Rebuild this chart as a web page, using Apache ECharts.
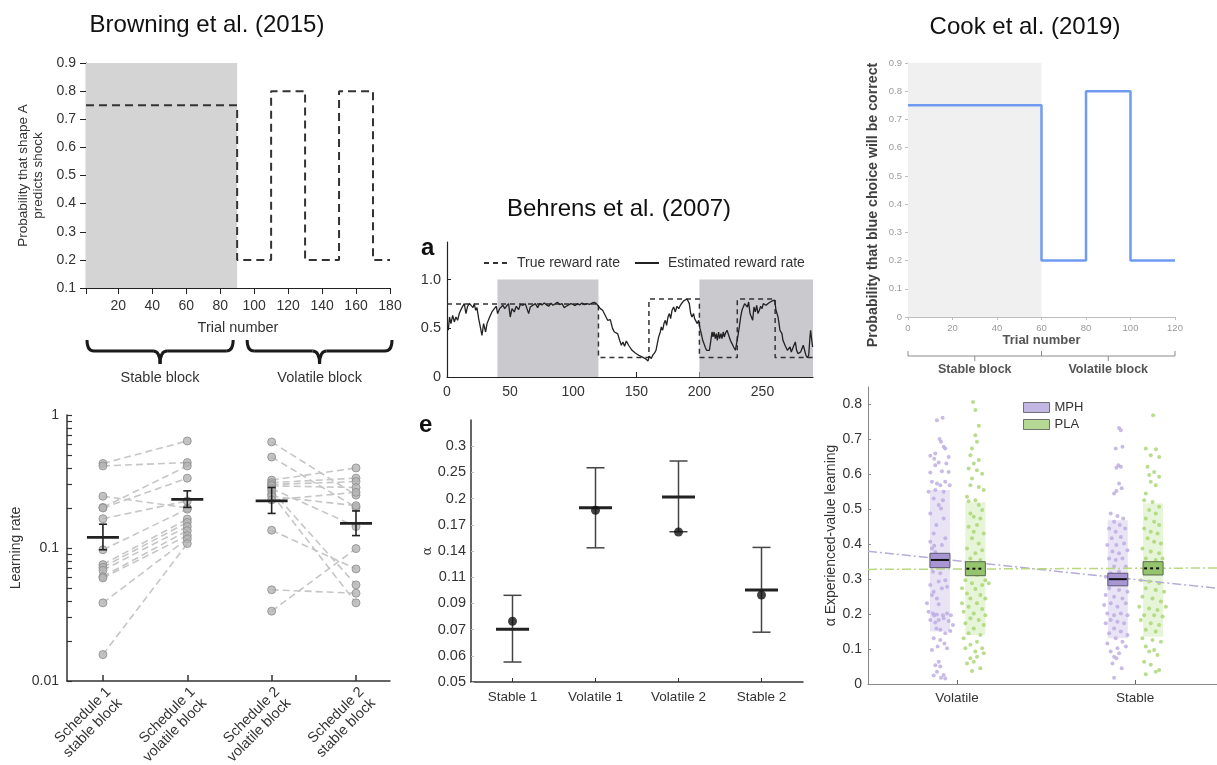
<!DOCTYPE html>
<html>
<head>
<meta charset="utf-8">
<style>
  html, body { margin: 0; padding: 0; background: #fff; }
  #main { width: 1217px; height: 765px; }
</style>
<script src="https://cdn.jsdelivr.net/npm/echarts@6/dist/echarts.min.js"></script>
</head>
<body>
<div id="main"></div>
<script>
// ---------- Browning et al. (2015): shock schedule ----------
var browningBlockStart = [1, 90, 110, 130, 150, 170, 180];
var browningBlockProb = [0.75, 0.2, 0.8, 0.2, 0.8, 0.2, 0.2];
var browningStable = [1, 90];
var browningXTicks = [20, 40, 60, 80, 100, 120, 140, 160, 180];
var browningBlocks = ['Stable block', 'Volatile block'];

// ---------- Browning: learning rate per subject ----------
var lrCategories = ['Schedule 1\nstable block', 'Schedule 1\nvolatile block', 'Schedule 2\nvolatile block', 'Schedule 2\nstable block'];
var lrSched1Stable = [0.432, 0.414, 0.245, 0.202, 0.200, 0.166, 0.097, 0.075, 0.0716, 0.068, 0.061, 0.0596, 0.0387, 0.0158];
var lrSched1Volatile = [0.638, 0.439, 0.200, 0.414, 0.335, 0.226, 0.196, 0.165, 0.156, 0.145, 0.135, 0.124, 0.117, 0.108];
var lrSched2Volatile = [0.627, 0.483, 0.324, 0.310, 0.300, 0.293, 0.280, 0.270, 0.254, 0.245, 0.230, 0.136, 0.0485, 0.0335];
var lrSched2Stable = [0.250, 0.202, 0.400, 0.335, 0.316, 0.285, 0.145, 0.0528, 0.0387, 0.208, 0.262, 0.0696, 0.0457, 0.099];
var lrMean = [0.120, 0.232, 0.226, 0.153];
var lrErrLow = [0.097, 0.202, 0.182, 0.124];
var lrErrHigh = [0.151, 0.269, 0.285, 0.190];
var lrMinorTicks = [0.01, 0.02, 0.03, 0.04, 0.05, 0.06, 0.07, 0.08, 0.09, 0.1, 0.2, 0.3, 0.4, 0.5, 0.6, 0.7, 0.8, 0.9, 1];
var lrLabelTicks = [0.01, 0.1, 1];

// ---------- Behrens et al. (2007): reward rate ----------
var trueRateStart = [0, 120, 160, 200, 230, 260, 290];
var trueRateValue = [0.75, 0.2, 0.8, 0.2, 0.8, 0.2, 0.2];
var behrensShaded = [[40, 120], [200, 290]];
var behrensXTicks = [0, 50, 100, 150, 200, 250];
var behrensYTicks = [0, 0.5, 1];
var behrensYLabels = ['0', '0.5', '1.0'];
var estimatedRate = [
  [1, 0.480], [2, 0.616], [3.1, 0.548], [4.5, 0.633], [5.8, 0.565], [7.1, 0.616], [8.4, 0.582], [9.7, 0.651],
  [11.1, 0.692], [12.4, 0.726], [13.7, 0.753], [15.0, 0.651], [16.3, 0.726], [17.9, 0.753], [19.2, 0.760],
  [20.6, 0.712], [21.6, 0.753], [22.7, 0.685], [23.7, 0.712], [25.1, 0.599], [26.4, 0.582], [27.7, 0.428],
  [29.0, 0.548], [30.6, 0.462], [31.7, 0.548], [33.8, 0.616], [35.6, 0.668], [37.5, 0.702], [39.1, 0.726],
  [40.1, 0.651], [41.7, 0.702], [43.0, 0.685], [44.3, 0.736], [45.7, 0.702], [47.0, 0.726], [48.8, 0.753],
  [50.1, 0.616], [51.5, 0.702], [53.3, 0.668], [54.9, 0.726], [56.8, 0.692], [58.1, 0.746], [60.2, 0.736],
  [62.0, 0.753], [63.4, 0.760], [64.7, 0.651], [66.0, 0.719], [68.1, 0.736], [70.0, 0.753], [71.8, 0.712],
  [73.4, 0.753], [75.2, 0.740], [77.1, 0.760], [78.7, 0.743], [80.5, 0.726], [82.4, 0.757], [84.0, 0.736],
  [85.8, 0.753], [87.6, 0.767], [89.2, 0.743], [91.1, 0.753], [92.9, 0.712], [94.5, 0.726], [96.4, 0.740],
  [98.2, 0.753], [99.8, 0.746], [101.6, 0.733], [103.5, 0.753], [105.1, 0.740], [106.9, 0.760], [108.8, 0.743],
  [110.9, 0.753], [113.0, 0.746], [114.9, 0.760], [116.7, 0.767], [118.3, 0.753], [120.1, 0.726], [121.5, 0.702],
  [123.3, 0.685], [124.6, 0.692], [126.0, 0.616], [127.3, 0.582], [129.4, 0.589], [131.2, 0.497], [132.6, 0.462],
  [133.9, 0.480], [135.2, 0.445], [136.8, 0.377], [138.1, 0.326], [139.4, 0.360], [140.7, 0.315], [142.1, 0.370],
  [143.9, 0.326], [146.6, 0.274], [149.2, 0.247], [151.9, 0.223], [154.5, 0.206], [157.1, 0.189], [159.3, 0.165],
  [160.3, 0.213], [161.9, 0.189], [163.0, 0.223], [164.5, 0.247], [165.6, 0.274], [166.4, 0.326], [167.7, 0.411],
  [169.0, 0.462], [169.8, 0.514], [170.9, 0.480], [171.9, 0.548], [173.0, 0.582], [174.0, 0.531], [175.1, 0.616],
  [176.2, 0.651], [177.2, 0.599], [178.3, 0.685], [179.6, 0.719], [180.9, 0.668], [182.2, 0.726], [183.6, 0.702],
  [184.9, 0.736], [186.2, 0.760], [187.5, 0.781], [188.8, 0.794], [190.2, 0.801], [190.9, 0.805], [192.0, 0.753],
  [193.1, 0.651], [194.1, 0.616], [195.4, 0.651], [196.2, 0.599], [197.3, 0.616], [198.3, 0.548], [199.4, 0.582],
  [200.5, 0.497], [201.5, 0.445], [202.6, 0.377], [203.6, 0.343], [204.7, 0.302], [205.7, 0.274], [206.8, 0.257],
  [207.9, 0.274], [208.9, 0.360], [210.0, 0.462], [210.8, 0.411], [211.6, 0.462], [212.6, 0.394], [213.4, 0.445],
  [214.2, 0.377], [215.2, 0.462], [216.0, 0.394], [217.1, 0.445], [217.9, 0.394], [218.9, 0.462], [219.7, 0.411],
  [220.5, 0.445], [221.9, 0.480], [223.2, 0.428], [224.5, 0.377], [225.8, 0.343], [227.1, 0.308], [228.5, 0.274],
  [229.5, 0.291], [230.6, 0.428], [231.6, 0.514], [232.7, 0.616], [233.7, 0.685], [234.8, 0.702], [235.8, 0.753],
  [236.9, 0.767], [238.0, 0.719], [239.0, 0.770], [240.1, 0.651], [241.1, 0.668], [242.2, 0.582], [243.2, 0.719],
  [244.3, 0.668], [245.4, 0.736], [246.4, 0.651], [247.5, 0.685], [248.5, 0.726], [249.6, 0.702], [250.6, 0.753],
  [251.7, 0.770], [252.8, 0.736], [253.8, 0.753], [254.9, 0.760], [256.2, 0.777], [257.5, 0.781], [258.6, 0.788],
  [259.6, 0.788], [260.7, 0.685], [261.5, 0.702], [262.3, 0.616], [263.1, 0.548], [263.8, 0.480], [264.6, 0.462],
  [265.4, 0.445], [266.2, 0.377], [267.0, 0.394], [267.8, 0.326], [269.7, 0.274], [270.7, 0.257], [271.8, 0.308],
  [272.8, 0.257], [273.9, 0.240], [274.9, 0.326], [276.0, 0.360], [277.0, 0.274], [278.1, 0.240], [279.2, 0.223],
  [280.2, 0.257], [281.3, 0.274], [282.3, 0.326], [283.4, 0.308], [284.4, 0.223], [285.5, 0.199], [286.6, 0.223],
  [287.6, 0.411], [288.1, 0.480], [288.7, 0.411], [289.7, 0.308]
];

// ---------- Behrens: alpha per block ----------
var eCategories = ['Stable 1', 'Volatile 1', 'Volatile 2', 'Stable 2'];
var eMean = [0.0746, 0.188, 0.204, 0.1005];
var eLow = [0.0582, 0.1386, 0.1566, 0.073];
var eHigh = [0.0966, 0.2546, 0.268, 0.139];
var eDot = [0.0793, 0.1843, 0.1563, 0.0968];
var eTickValues = [0.05, 0.061, 0.0745, 0.0908, 0.1109, 0.1353, 0.1651, 0.2014, 0.2458, 0.3];
var eTickLabels = ['0.05', '0.06', '0.07', '0.09', '0.11', '0.14', '0.17', '0.2', '0.25', '0.3'];

// ---------- Cook et al. (2019): schedule ----------
var cookBlockStart = [0, 60, 80, 100, 120];
var cookBlockProb = [0.75, 0.2, 0.8, 0.2, 0.2];
var cookStable = [0, 60];
var cookBlocks = ['Stable block', 'Volatile block'];

// ---------- Cook: experienced-value learning rate ----------
var cookConditions = ['Volatile', 'Stable'];
var mphPoints = [
  [0.887, 0.755], [0.919, 0.762], [0.902, 0.701], [0.910, 0.693], [0.925, 0.679], [0.934, 0.674], [0.878, 0.660],
  [0.850, 0.653], [0.872, 0.645], [0.953, 0.650], [0.897, 0.634], [0.940, 0.631], [0.878, 0.626], [0.915, 0.609],
  [0.850, 0.605], [0.953, 0.607], [0.859, 0.579], [0.887, 0.574], [0.906, 0.569], [0.934, 0.579], [0.959, 0.569],
  [0.840, 0.550], [0.878, 0.555], [0.925, 0.550], [0.869, 0.531], [0.921, 0.526], [0.897, 0.512], [0.850, 0.488],
  [0.910, 0.502], [0.925, 0.474], [0.884, 0.455], [0.869, 0.431], [0.850, 0.407], [0.872, 0.396], [0.859, 0.388],
  [0.915, 0.398], [0.934, 0.417], [0.878, 0.378], [0.887, 0.369], [0.944, 0.359], [0.929, 0.340], [0.865, 0.321],
  [0.906, 0.317], [0.897, 0.293], [0.934, 0.297], [0.850, 0.283], [0.915, 0.274], [0.869, 0.264], [0.944, 0.278],
  [0.859, 0.255], [0.887, 0.245], [0.831, 0.231], [0.897, 0.228], [0.840, 0.207], [0.865, 0.202], [0.887, 0.199],
  [0.872, 0.196], [0.921, 0.197], [0.944, 0.202], [0.966, 0.197], [0.850, 0.183], [0.897, 0.183], [0.878, 0.176],
  [0.925, 0.188], [0.953, 0.180], [0.977, 0.169], [0.884, 0.159], [0.906, 0.155], [0.934, 0.145], [0.962, 0.152],
  [0.869, 0.131], [0.906, 0.126], [0.929, 0.116], [0.891, 0.107], [0.944, 0.102], [0.859, 0.097], [0.897, 0.064],
  [0.878, 0.054], [0.906, 0.050], [0.887, 0.035], [0.925, 0.026], [0.869, 0.024], [0.910, 0.018], [0.934, 0.016],
  [1.910, 0.733], [1.920, 0.726], [1.929, 0.679], [1.891, 0.674], [1.906, 0.626], [1.920, 0.622], [1.895, 0.619],
  [1.910, 0.574], [1.925, 0.560], [1.895, 0.552], [1.882, 0.545], [1.863, 0.488], [1.901, 0.481], [1.933, 0.474],
  [1.882, 0.464], [1.914, 0.455], [1.854, 0.445], [1.891, 0.436], [1.944, 0.445], [1.869, 0.417], [1.920, 0.421],
  [1.844, 0.398], [1.895, 0.398], [1.938, 0.402], [1.873, 0.379], [1.910, 0.374], [1.957, 0.383], [1.854, 0.359],
  [1.891, 0.355], [1.929, 0.359], [1.882, 0.336], [1.948, 0.336], [1.863, 0.317], [1.910, 0.321], [1.835, 0.307],
  [1.891, 0.293], [1.938, 0.293], [1.854, 0.274], [1.910, 0.269], [1.957, 0.264], [1.835, 0.255], [1.882, 0.250],
  [1.929, 0.245], [1.863, 0.231], [1.901, 0.221], [1.948, 0.231], [1.826, 0.226], [1.844, 0.202], [1.882, 0.197],
  [1.920, 0.202], [1.957, 0.197], [1.863, 0.183], [1.901, 0.178], [1.938, 0.174], [1.835, 0.174], [1.882, 0.159],
  [1.920, 0.150], [1.854, 0.145], [1.957, 0.140], [1.891, 0.131], [1.929, 0.121], [1.844, 0.116], [1.948, 0.107],
  [1.901, 0.102], [1.863, 0.093], [1.910, 0.088], [1.882, 0.078], [1.895, 0.074], [1.873, 0.059], [1.925, 0.045],
  [1.882, 0.018]
];
var plaPoints = [
  [1.090, 0.807], [1.103, 0.784], [1.122, 0.739], [1.103, 0.712], [1.112, 0.693], [1.084, 0.674], [1.075, 0.655],
  [1.122, 0.641], [1.094, 0.631], [1.065, 0.617], [1.112, 0.612], [1.141, 0.602], [1.084, 0.588], [1.075, 0.569],
  [1.122, 0.564], [1.150, 0.555], [1.056, 0.536], [1.065, 0.523], [1.103, 0.526], [1.122, 0.512], [1.141, 0.498],
  [1.075, 0.488], [1.094, 0.479], [1.131, 0.474], [1.112, 0.455], [1.065, 0.450], [1.094, 0.436], [1.150, 0.431],
  [1.084, 0.417], [1.122, 0.402], [1.056, 0.388], [1.141, 0.383], [1.103, 0.374], [1.075, 0.359], [1.131, 0.355],
  [1.065, 0.321], [1.112, 0.312], [1.047, 0.297], [1.159, 0.297], [1.084, 0.288], [1.141, 0.283], [1.178, 0.288],
  [1.028, 0.274], [1.103, 0.272], [1.056, 0.259], [1.131, 0.255], [1.075, 0.245], [1.159, 0.245], [1.028, 0.231],
  [1.112, 0.231], [1.065, 0.221], [1.141, 0.215], [1.037, 0.207], [1.094, 0.202], [1.159, 0.197], [1.075, 0.188],
  [1.122, 0.183], [1.047, 0.174], [1.150, 0.169], [1.094, 0.159], [1.065, 0.145], [1.131, 0.140], [1.037, 0.131],
  [1.112, 0.121], [1.075, 0.112], [1.141, 0.102], [1.047, 0.102], [1.103, 0.093], [1.150, 0.088], [1.075, 0.074],
  [1.112, 0.078], [1.094, 0.064], [1.056, 0.059], [1.131, 0.045], [1.084, 0.037],
  [2.101, 0.769], [2.060, 0.674], [2.117, 0.672], [2.088, 0.655], [2.135, 0.650], [2.070, 0.622], [2.107, 0.607],
  [2.079, 0.598], [2.135, 0.593], [2.088, 0.579], [2.116, 0.569], [2.060, 0.545], [2.051, 0.526], [2.098, 0.521],
  [2.135, 0.507], [2.079, 0.498], [2.116, 0.488], [2.060, 0.474], [2.107, 0.464], [2.135, 0.455], [2.051, 0.445],
  [2.088, 0.436], [2.126, 0.431], [2.070, 0.417], [2.107, 0.407], [2.145, 0.402], [2.041, 0.388], [2.088, 0.379],
  [2.135, 0.374], [2.060, 0.359], [2.116, 0.355], [2.154, 0.359], [2.051, 0.326], [2.098, 0.321], [2.032, 0.297],
  [2.079, 0.293], [2.135, 0.288], [2.060, 0.274], [2.116, 0.269], [2.163, 0.264], [2.041, 0.250], [2.098, 0.245],
  [2.145, 0.236], [2.023, 0.221], [2.079, 0.216], [2.126, 0.212], [2.173, 0.221], [2.051, 0.197], [2.107, 0.197],
  [2.154, 0.193], [2.032, 0.183], [2.088, 0.174], [2.135, 0.169], [2.060, 0.155], [2.116, 0.150], [2.041, 0.131],
  [2.098, 0.126], [2.145, 0.121], [2.060, 0.107], [2.107, 0.097], [2.079, 0.093], [2.126, 0.083], [2.051, 0.064],
  [2.088, 0.055], [2.116, 0.035], [2.060, 0.028], [2.135, 0.040]
];
// [x, low, high]
var mphSdBox = [[0.904, 0.150, 0.555], [1.903, 0.131, 0.469]];
var mphSeBox = [[0.904, 0.333, 0.374], [1.903, 0.281, 0.317]];
var mphMean = [[0.904, 0.355], [1.903, 0.300]];
var plaSdBox = [[1.103, 0.140, 0.520], [2.101, 0.135, 0.517]];
var plaSeBox = [[1.103, 0.310, 0.350], [2.101, 0.312, 0.350]];
var plaMean = [[1.103, 0.330], [2.101, 0.331]];
var mphTrend = [[0.5, 0.380], [2.46, 0.274]];
var plaTrend = [[0.5, 0.328], [2.46, 0.332]];
var cookYTicks = [0, 0.1, 0.2, 0.3, 0.4, 0.5, 0.6, 0.7, 0.8];

var FONT = "'Liberation Sans', Arial, Helvetica, sans-serif";

function stepData(starts, values) {
  return starts.map(function (s, i) { return [s, values[i]]; });
}
function errorBarItem(capHalf, color, width) {
  return function (params, api) {
    var x = api.value(0);
    var lo = api.coord([x, api.value(1)]);
    var hi = api.coord([x, api.value(2)]);
    var st = { stroke: color, lineWidth: width };
    return {
      type: 'group', children: [
        { type: 'line', shape: { x1: lo[0], y1: lo[1], x2: hi[0], y2: hi[1] }, style: st },
        { type: 'line', shape: { x1: lo[0] - capHalf, y1: lo[1], x2: lo[0] + capHalf, y2: lo[1] }, style: st },
        { type: 'line', shape: { x1: hi[0] - capHalf, y1: hi[1], x2: hi[0] + capHalf, y2: hi[1] }, style: st }
      ]
    };
  };
}
function hBarItem(half, color, width, dash) {
  return function (params, api) {
    var p = api.coord([api.value(0), api.value(1)]);
    return {
      type: 'line',
      shape: { x1: p[0] - half, y1: p[1], x2: p[0] + half, y2: p[1] },
      style: { stroke: color, lineWidth: width, lineDash: dash || null }
    };
  };
}
function boxItem(half, fill, stroke) {
  return function (params, api) {
    var x = api.value(0);
    var top = api.coord([x, api.value(2)]);
    var bot = api.coord([x, api.value(1)]);
    return {
      type: 'rect',
      shape: { x: top[0] - half, y: top[1], width: half * 2, height: bot[1] - top[1] },
      style: { fill: fill, stroke: stroke || null, lineWidth: stroke ? 1 : 0 }
    };
  };
}

var lrPairs = [];
lrSched1Stable.forEach(function (v, i) { lrPairs.push({ coords: [[1, v], [2, lrSched1Volatile[i]]] }); });
lrSched2Volatile.forEach(function (v, i) { lrPairs.push({ coords: [[3, v], [4, lrSched2Stable[i]]] }); });
var lrDots = [];
[lrSched1Stable, lrSched1Volatile, lrSched2Volatile, lrSched2Stable].forEach(function (arr, k) {
  arr.forEach(function (v) { lrDots.push([k + 1, v]); });
});

var chart = echarts.init(document.getElementById('main'));

var option = {
  backgroundColor: '#fff',
  animation: false,
  textStyle: { fontFamily: FONT },
  grid: [
    { left: 86, top: 63, width: 304, height: 225, outerBoundsMode: 'none' },
    { left: 67, top: 415, width: 323, height: 266, outerBoundsMode: 'none' },
    { left: 447, top: 242, width: 366, height: 135, outerBoundsMode: 'none' },
    { left: 471, top: 420, width: 332, height: 262, outerBoundsMode: 'none' },
    { left: 908, top: 63, width: 267, height: 254, outerBoundsMode: 'none' },
    { left: 868, top: 387, width: 349, height: 297, outerBoundsMode: 'none' }
  ],
  legend: [
    {
      data: ['True reward rate', 'Estimated reward rate'],
      left: 478, top: 251, itemWidth: 24, itemHeight: 10, itemGap: 14,
      itemStyle: { opacity: 0 },
      textStyle: { fontSize: 14, color: '#333', fontFamily: FONT, padding: [0, 0, 0, 4] },
      selectedMode: false
    },
    {
      data: [
        { name: 'MPH', itemStyle: { color: '#b3a5dc', borderColor: '#555', borderWidth: 1 } },
        { name: 'PLA', itemStyle: { color: '#a3d07a', borderColor: '#555', borderWidth: 1 } }
      ],
      orient: 'vertical', left: 1018, top: 396, icon: 'rect',
      itemWidth: 26, itemHeight: 10, itemGap: 4,
      textStyle: { fontSize: 13, color: '#333', fontFamily: FONT },
      selectedMode: false
    }
  ],
  xAxis: [
    { // 0 Browning schedule
      gridIndex: 0, type: 'value', min: 1, max: 180,
      name: 'Trial number', nameLocation: 'middle', nameGap: 32,
      nameTextStyle: { fontSize: 14.5, color: '#333' },
      axisLine: { lineStyle: { color: '#222', width: 1.2 } },
      axisTick: { customValues: [1].concat(browningXTicks), length: 6, lineStyle: { color: '#222' } },
      axisLabel: { customValues: browningXTicks, fontSize: 14, color: '#333', margin: 11 },
      splitLine: { show: false }
    },
    { // 1 learning rates
      gridIndex: 1, type: 'value', min: 0.574, max: 4.403,
      axisLine: { lineStyle: { color: '#333', width: 1.5 } },
      axisTick: { customValues: [1, 2, 3, 4], inside: true, length: 6, lineStyle: { color: '#333', width: 1.5 } },
      axisLabel: {
        customValues: [1, 2, 3, 4], rotate: 45, fontSize: 14.5, color: '#333', margin: 3, lineHeight: 16,
        verticalAlign: 'top',
        formatter: function (v) { return lrCategories[Math.round(v) - 1]; }
      },
      splitLine: { show: false }
    },
    { // 2 Behrens reward rate
      gridIndex: 2, type: 'value', min: 0, max: 290,
      axisLine: { lineStyle: { color: '#222', width: 1.2 } },
      axisTick: { customValues: behrensXTicks, inside: true, length: 5, lineStyle: { color: '#222' } },
      axisLabel: { customValues: behrensXTicks, fontSize: 14, color: '#333', margin: 8 },
      splitLine: { show: false }
    },
    { // 3 Behrens alpha
      gridIndex: 3, type: 'value', min: 0.5, max: 4.5,
      axisLine: { lineStyle: { color: '#333', width: 1.5 } },
      axisTick: { customValues: [1, 2, 3, 4], inside: true, length: 4, lineStyle: { color: '#333' } },
      axisLabel: {
        customValues: [1, 2, 3, 4], fontSize: 13.5, color: '#333', margin: 8,
        formatter: function (v) { return eCategories[Math.round(v) - 1]; }
      },
      splitLine: { show: false }
    },
    { // 4 Cook schedule
      gridIndex: 4, type: 'value', min: 0, max: 120, interval: 20,
      name: 'Trial number', nameLocation: 'middle', nameGap: 17,
      nameTextStyle: { fontSize: 13, color: '#555', fontWeight: 'bold' },
      axisLine: { lineStyle: { color: '#bdbdbd', width: 1 } },
      axisTick: { length: 3, lineStyle: { color: '#bdbdbd' } },
      axisLabel: { fontSize: 9.5, color: '#9a9a9a', margin: 6 },
      splitLine: { show: false }
    },
    { // 5 Cook alpha
      gridIndex: 5, type: 'value', min: 0.5, max: 2.46,
      axisLine: { lineStyle: { color: '#888', width: 1 } },
      axisTick: { customValues: [1, 2], inside: true, length: 4, lineStyle: { color: '#666' } },
      axisLabel: {
        customValues: [1, 2], fontSize: 13.5, color: '#333', margin: 7,
        formatter: function (v) { return cookConditions[Math.round(v) - 1]; }
      },
      splitLine: { show: false }
    }
  ],
  yAxis: [
    { // 0
      gridIndex: 0, type: 'value', min: 0.1, max: 0.9, interval: 0.1,
      name: 'Probability that shape A\npredicts shock', nameLocation: 'middle', nameGap: 40,
      nameTextStyle: { fontSize: 13.5, color: '#333', lineHeight: 15 },
      axisLine: { show: true, lineStyle: { color: '#222', width: 1.2 } },
      axisTick: { show: true, length: 6, lineStyle: { color: '#222' } },
      axisLabel: { fontSize: 14, color: '#333', margin: 10, formatter: function (v) { return v.toFixed(1); } },
      splitLine: { show: false }
    },
    { // 1 log
      gridIndex: 1, type: 'log', logBase: 10, min: 0.01, max: 1,
      name: 'Learning rate', nameLocation: 'middle', nameGap: 44,
      nameTextStyle: { fontSize: 14, color: '#333' },
      axisLine: { show: true, lineStyle: { color: '#333', width: 1.5 } },
      axisTick: { show: true, customValues: lrMinorTicks, inside: true, length: 5, lineStyle: { color: '#333', width: 1.2 } },
      axisLabel: { customValues: lrLabelTicks, fontSize: 14, color: '#333', margin: 8, formatter: function (v) { return String(v); } },
      splitLine: { show: false }
    },
    { // 2
      gridIndex: 2, type: 'value', min: 0, max: 1.386,
      axisLine: { show: true, lineStyle: { color: '#222', width: 1.2 } },
      axisTick: { show: true, customValues: behrensYTicks, inside: true, length: 4, lineStyle: { color: '#222' } },
      axisLabel: {
        customValues: behrensYTicks, fontSize: 14.5, color: '#333', margin: 6,
        formatter: function (v) { return behrensYLabels[behrensYTicks.indexOf(v)]; }
      },
      splitLine: { show: false }
    },
    { // 3 log alpha
      gridIndex: 3, type: 'log', logBase: 10, min: 0.05, max: 0.366,
      name: 'α', nameLocation: 'middle', nameGap: 37,
      nameTextStyle: { fontSize: 13, color: '#333', fontFamily: "'DejaVu Serif', serif" },
      axisLine: { show: true, lineStyle: { color: '#333', width: 1.5 } },
      axisTick: { show: true, customValues: eTickValues, inside: true, length: 3, lineStyle: { color: '#bbb' } },
      axisLabel: {
        customValues: eTickValues, fontSize: 14.5, color: '#333', margin: 5,
        formatter: function (v) {
          var best = 0;
          eTickValues.forEach(function (t, i) { if (Math.abs(t - v) < Math.abs(eTickValues[best] - v)) best = i; });
          return eTickLabels[best];
        }
      },
      splitLine: { show: false }
    },
    { // 4
      gridIndex: 4, type: 'value', min: 0, max: 0.9, interval: 0.1,
      axisLine: { show: true, lineStyle: { color: '#bdbdbd', width: 1 } },
      axisTick: { show: true, length: 3, lineStyle: { color: '#bdbdbd' } },
      axisLabel: { fontSize: 9.5, color: '#9a9a9a', margin: 6 },
      splitLine: { show: false }
    },
    { // 5
      gridIndex: 5, type: 'value', min: 0, max: 0.85,
      name: 'α Experienced-value learning', nameLocation: 'middle', nameGap: 26,
      nameTextStyle: { fontSize: 14, color: '#333' },
      axisLine: { show: true, lineStyle: { color: '#888', width: 1 } },
      axisTick: { show: true, customValues: cookYTicks, inside: true, length: 3, lineStyle: { color: '#888' } },
      axisLabel: { customValues: cookYTicks, fontSize: 14, color: '#333', margin: 6 },
      splitLine: { show: false }
    }
  ],
  series: [
    // ---- Browning schedule ----
    {
      name: 'browning-schedule', type: 'line', xAxisIndex: 0, yAxisIndex: 0,
      data: stepData(browningBlockStart, browningBlockProb), step: 'end', symbol: 'none',
      lineStyle: { color: '#333', width: 2, type: [8, 5] },
      markArea: {
        silent: true, itemStyle: { color: '#d4d4d4' },
        data: [[{ xAxis: browningStable[0], yAxis: 0.1 }, { xAxis: browningStable[1], yAxis: 0.9 }]]
      },
      z: 3
    },
    // ---- Browning learning rates ----
    {
      name: 'lr-pairs', type: 'lines', coordinateSystem: 'cartesian2d', xAxisIndex: 1, yAxisIndex: 1,
      data: lrPairs, lineStyle: { color: '#c6c6c6', width: 1.6, type: [7, 4], opacity: 1 }, z: 2
    },
    {
      name: 'lr-dots', type: 'scatter', xAxisIndex: 1, yAxisIndex: 1, data: lrDots,
      symbolSize: 8, itemStyle: { color: '#b4b4b4', borderColor: '#8c8c8c', borderWidth: 1 }, z: 3
    },
    {
      name: 'lr-err', type: 'custom', xAxisIndex: 1, yAxisIndex: 1,
      data: lrMean.map(function (m, i) { return [i + 1, lrErrLow[i], lrErrHigh[i]]; }),
      renderItem: errorBarItem(4, '#222', 1.6), encode: { x: 0, y: [1, 2] }, z: 4
    },
    {
      name: 'lr-mean', type: 'custom', xAxisIndex: 1, yAxisIndex: 1,
      data: lrMean.map(function (m, i) { return [i + 1, m]; }),
      renderItem: hBarItem(16, '#222', 2.8), encode: { x: 0, y: 1 }, z: 5
    },
    // ---- Behrens reward rate ----
    {
      name: 'True reward rate', type: 'line', xAxisIndex: 2, yAxisIndex: 2,
      data: stepData(trueRateStart, trueRateValue), step: 'end', symbol: 'none',
      lineStyle: { color: '#333', width: 1.5, type: [5, 4] },
      itemStyle: { color: '#333' },
      markArea: {
        silent: true, itemStyle: { color: '#c9c9ce' },
        data: behrensShaded.map(function (b) { return [{ xAxis: b[0], yAxis: 0 }, { xAxis: b[1], yAxis: 1 }]; })
      },
      z: 3
    },
    {
      name: 'Estimated reward rate', type: 'line', xAxisIndex: 2, yAxisIndex: 2,
      data: estimatedRate, symbol: 'none',
      lineStyle: { color: '#222', width: 1.3 }, itemStyle: { color: '#222' }, z: 4
    },
    // ---- Behrens alpha ----
    {
      name: 'e-err', type: 'custom', xAxisIndex: 3, yAxisIndex: 3,
      data: eMean.map(function (m, i) { return [i + 1, eLow[i], eHigh[i]]; }),
      renderItem: errorBarItem(9, '#444', 1.5), encode: { x: 0, y: [1, 2] }, z: 3
    },
    {
      name: 'e-mean', type: 'custom', xAxisIndex: 3, yAxisIndex: 3,
      data: eMean.map(function (m, i) { return [i + 1, m]; }),
      renderItem: hBarItem(16.5, '#222', 3), encode: { x: 0, y: 1 }, z: 4
    },
    {
      name: 'e-dot', type: 'scatter', xAxisIndex: 3, yAxisIndex: 3,
      data: eDot.map(function (d, i) { return [i + 1, d]; }),
      symbolSize: 9, itemStyle: { color: '#111' }, z: 5
    },
    // ---- Cook schedule ----
    {
      name: 'cook-schedule', type: 'line', xAxisIndex: 4, yAxisIndex: 4,
      data: stepData(cookBlockStart, cookBlockProb), step: 'end', symbol: 'none',
      lineStyle: { color: '#6f9bf0', width: 2.5 },
      markArea: {
        silent: true, itemStyle: { color: '#f0f0f0' },
        data: [[{ xAxis: cookStable[0], yAxis: 0 }, { xAxis: cookStable[1], yAxis: 0.9 }]]
      },
      z: 3
    },
    // ---- Cook alpha ----
    {
      name: 'mph-sd', type: 'custom', xAxisIndex: 5, yAxisIndex: 5, data: mphSdBox,
      renderItem: boxItem(10, 'rgba(195,185,228,0.38)'), encode: { x: 0, y: [1, 2] }, z: 1
    },
    {
      name: 'pla-sd', type: 'custom', xAxisIndex: 5, yAxisIndex: 5, data: plaSdBox,
      renderItem: boxItem(10, 'rgba(190,225,150,0.38)'), encode: { x: 0, y: [1, 2] }, z: 1
    },
    {
      name: 'MPH', type: 'scatter', xAxisIndex: 5, yAxisIndex: 5, data: mphPoints,
      symbolSize: 4, itemStyle: { color: '#bba9e0' }, z: 2
    },
    {
      name: 'PLA', type: 'scatter', xAxisIndex: 5, yAxisIndex: 5, data: plaPoints,
      symbolSize: 4, itemStyle: { color: '#a9d470' }, z: 2
    },
    {
      name: 'mph-trend', type: 'line', xAxisIndex: 5, yAxisIndex: 5, data: mphTrend, symbol: 'none',
      lineStyle: { color: '#b7abd9', width: 1.5, type: [9, 3, 2, 3] }, z: 3
    },
    {
      name: 'pla-trend', type: 'line', xAxisIndex: 5, yAxisIndex: 5, data: plaTrend, symbol: 'none',
      lineStyle: { color: '#b9d97f', width: 1.5, type: [9, 3, 2, 3] }, z: 3
    },
    {
      name: 'mph-se', type: 'custom', xAxisIndex: 5, yAxisIndex: 5, data: mphSeBox,
      renderItem: boxItem(10, '#a895d3', '#5d5870'), encode: { x: 0, y: [1, 2] }, z: 4
    },
    {
      name: 'pla-se', type: 'custom', xAxisIndex: 5, yAxisIndex: 5, data: plaSeBox,
      renderItem: boxItem(10, '#95c46c', '#56684a'), encode: { x: 0, y: [1, 2] }, z: 4
    },
    {
      name: 'mph-mean', type: 'custom', xAxisIndex: 5, yAxisIndex: 5, data: mphMean,
      renderItem: hBarItem(9, '#111', 2), encode: { x: 0, y: 1 }, z: 5
    },
    {
      name: 'pla-mean', type: 'custom', xAxisIndex: 5, yAxisIndex: 5, data: plaMean,
      renderItem: hBarItem(9, '#111', 2, [3, 3]), encode: { x: 0, y: 1 }, z: 5
    }
  ]
};

chart.setOption(option);

// annotations placed from the axes' own scales
function px(grid, x, y) { return chart.convertToPixel({ gridIndex: grid }, [x, y]); }
function brace(x1, x2, yT, yB, yC, style) {
  var m = (x1 + x2) / 2, r = 7;
  return [
    { type: 'bezierCurve', shape: { x1: x1, y1: yT, cpx1: x1, cpy1: yB, x2: x1 + r, y2: yB }, style: style },
    { type: 'line', shape: { x1: x1 + r, y1: yB, x2: m - r, y2: yB }, style: style },
    { type: 'bezierCurve', shape: { x1: m - r, y1: yB, cpx1: m, cpy1: yB, x2: m, y2: yC }, style: style },
    { type: 'bezierCurve', shape: { x1: m, y1: yC, cpx1: m, cpy1: yB, x2: m + r, y2: yB }, style: style },
    { type: 'line', shape: { x1: m + r, y1: yB, x2: x2 - r, y2: yB }, style: style },
    { type: 'bezierCurve', shape: { x1: x2 - r, y1: yB, cpx1: x2, cpy1: yB, x2: x2, y2: yT }, style: style }
  ];
}
function bracket(x1, x2, yT, yB, yC, style) {
  var m = (x1 + x2) / 2;
  return [
    { type: 'polyline', shape: { points: [[x1, yT], [x1, yB], [x2, yB], [x2, yT]] }, style: style },
    { type: 'line', shape: { x1: m, y1: yB, x2: m, y2: yC }, style: style }
  ];
}
var bS = px(0, browningStable[0], 0.1), bE = px(0, browningStable[1], 0.1), bR = px(0, 180, 0.1);
var bY = bS[1];
var b1 = [bS[0] + 1, bE[0] - 4], b2 = [bE[0] + 10, bR[0] + 2];
var cS = px(4, cookStable[0], 0), cE = px(4, cookStable[1], 0), cR = px(4, 120, 0);
var cY = cS[1];
var braceStyle = { stroke: '#1a1a1a', lineWidth: 3, fill: null };
var bracketStyle = { stroke: '#8a8a8a', lineWidth: 1, fill: null };
var titleFont = '24px ' + FONT;

var graphics = [
  { type: 'text', x: 207, y: 25, style: { text: 'Browning et al. (2015)', font: titleFont, fill: '#111', textAlign: 'center', textVerticalAlign: 'middle' } },
  { type: 'text', x: 619, y: 209, style: { text: 'Behrens et al. (2007)', font: titleFont, fill: '#111', textAlign: 'center', textVerticalAlign: 'middle' } },
  { type: 'text', x: 1025, y: 27, style: { text: 'Cook et al. (2019)', font: titleFont, fill: '#111', textAlign: 'center', textVerticalAlign: 'middle' } },
  { type: 'text', x: (b1[0] + b1[1]) / 2, y: bY + 90, style: { text: browningBlocks[0], font: '14.5px ' + FONT, fill: '#333', textAlign: 'center', textVerticalAlign: 'middle' } },
  { type: 'text', x: (b2[0] + b2[1]) / 2, y: bY + 90, style: { text: browningBlocks[1], font: '14.5px ' + FONT, fill: '#333', textAlign: 'center', textVerticalAlign: 'middle' } },
  { type: 'text', x: (cS[0] + cE[0]) / 2, y: cY + 53, style: { text: cookBlocks[0], font: 'bold 12.5px ' + FONT, fill: '#555', textAlign: 'center', textVerticalAlign: 'middle' } },
  { type: 'text', x: (cE[0] + cR[0]) / 2, y: cY + 53, style: { text: cookBlocks[1], font: 'bold 12.5px ' + FONT, fill: '#555', textAlign: 'center', textVerticalAlign: 'middle' } },
  { type: 'text', x: 873, y: 205, rotation: Math.PI / 2, style: { text: 'Probability that blue choice will be correct', font: 'bold 14.2px ' + FONT, fill: '#404040', textAlign: 'center', textVerticalAlign: 'middle' } },
  { type: 'text', x: 421, y: 248, style: { text: 'a', font: 'bold 24px ' + FONT, fill: '#111', textVerticalAlign: 'middle' } },
  { type: 'text', x: 419, y: 425, style: { text: 'e', font: 'bold 24px ' + FONT, fill: '#111', textVerticalAlign: 'middle' } }
];
graphics = graphics
  .concat(brace(b1[0], b1[1], bY + 52, bY + 63, bY + 76, braceStyle))
  .concat(brace(b2[0], b2[1], bY + 52, bY + 63, bY + 76, braceStyle))
  .concat(bracket(cS[0], cE[0], cY + 34, cY + 39, cY + 44, bracketStyle))
  .concat(bracket(cE[0], cR[0], cY + 34, cY + 39, cY + 44, bracketStyle));

chart.setOption({ graphic: graphics });

window.addEventListener('resize', function () { chart.resize(); });
</script>
</body>
</html>
